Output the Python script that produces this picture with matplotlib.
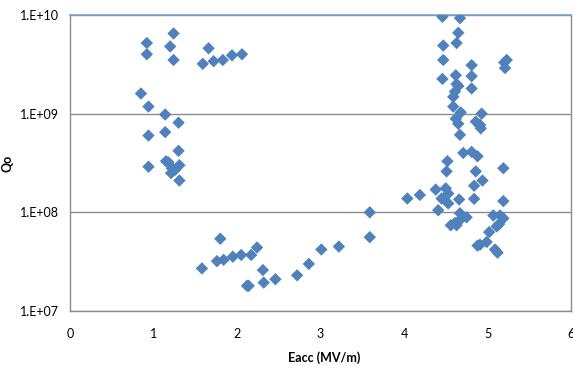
import matplotlib
matplotlib.use("Agg")
import matplotlib.pyplot as plt
from matplotlib.ticker import FixedLocator, NullLocator

# Data
eacc = [
    # low-field cluster
    0.92, 0.92, 1.24, 1.20, 1.24, 0.85, 0.94, 1.14, 1.30, 0.94, 1.14, 1.30,
    0.94, 1.15, 1.18, 1.31, 1.22, 1.21, 1.31, 1.26,
    1.66, 1.59, 1.72, 1.83, 1.94, 2.06,
    # low Q cluster
    3.59, 1.80, 3.59, 1.58, 1.76, 1.84, 1.95, 2.05, 2.17, 2.24, 2.31, 2.12,
    2.14, 2.32, 2.46, 2.72, 2.86, 3.01, 3.22,
    # high-field cluster
    4.46, 4.67, 4.65, 4.63, 4.47, 4.47, 4.81, 5.23, 5.20, 5.21, 4.46, 4.62,
    4.81, 4.63, 4.65, 4.61, 4.59, 4.81, 4.59, 4.68, 4.93, 4.62, 4.65, 4.86,
    4.91, 4.92, 4.67, 4.71, 4.81, 4.88, 4.52, 4.51, 4.86, 5.19, 4.94, 4.84,
    4.04, 4.19, 4.38, 4.50, 4.45, 4.53, 4.53, 4.66, 4.84, 5.19, 4.41,
    4.67, 4.75, 4.69, 4.61, 4.56, 4.63, 5.07, 5.15, 5.19, 5.14, 5.11, 5.02,
    4.99, 4.91, 4.88, 5.09, 5.12,
]
qo = [
    5.2e9, 4.0e9, 6.5e9, 4.8e9, 3.5e9, 1.6e9, 1.18e9, 9.8e8, 8.1e8, 6.0e8, 6.5e8, 4.2e8,
    2.9e8, 3.3e8, 3.2e8, 3.0e8, 2.8e8, 2.5e8, 2.1e8, 2.7e8,
    4.6e9, 3.2e9, 3.4e9, 3.5e9, 3.9e9, 4.0e9,
    1.0e8, 5.4e7, 5.6e7, 2.7e7, 3.2e7, 3.3e7, 3.55e7, 3.7e7, 3.7e7, 4.4e7, 2.6e7, 1.8e7,
    1.8e7, 1.94e7, 2.1e7, 2.3e7, 3.0e7, 4.2e7, 4.5e7,
    9.6e9, 9.3e9, 6.6e9, 5.2e9, 4.9e9, 3.5e9, 3.1e9, 3.5e9, 3.3e9, 2.9e9, 2.25e9, 2.45e9,
    2.4e9, 2.0e9, 1.9e9, 1.67e9, 1.48e9, 1.8e9, 1.18e9, 1.03e9, 1.0e9, 8.9e8, 7.9e8, 8.3e8,
    7.7e8, 7.1e8, 6.1e8, 4.0e8, 4.1e8, 3.7e8, 3.3e8, 2.6e8, 2.6e8, 2.8e8, 2.1e8, 1.86e8,
    1.38e8, 1.5e8, 1.7e8, 1.75e8, 1.38e8, 1.55e8, 1.23e8, 1.35e8, 1.37e8, 1.3e8, 1.05e8,
    9.8e7, 8.9e7, 8.7e7, 7.8e7, 7.4e7, 7.4e7, 9.3e7, 9.3e7, 8.7e7, 7.6e7, 7.2e7, 6.3e7,
    5.0e7, 4.7e7, 4.6e7, 4.2e7, 3.9e7,
]
x_ticks = [0, 1, 2, 3, 4, 5, 6]
y_ticks = [1e7, 1e8, 1e9, 1e10]
y_tick_labels = ["1.E+07", "1.E+08", "1.E+09", "1.E+10"]
x_label = "Eacc (MV/m)"
y_label = "Qo"

plt.rcParams['font.family'] = ['Lato', 'DejaVu Sans']

fig = plt.figure(figsize=(5.73, 3.69), dpi=100)
ax = fig.add_axes([70 / 573, 58 / 369, 501 / 573, 296 / 369])

ax.scatter(eacc, qo, marker='D', s=40, color='#4F81BD', edgecolors='none', zorder=3)

ax.set_yscale('log')
ax.set_xlim(0, 6)
ax.set_ylim(1e7, 1e10)
ax.yaxis.set_major_locator(FixedLocator(y_ticks))
ax.yaxis.set_minor_locator(NullLocator())
ax.set_yticklabels(y_tick_labels)
ax.set_xticks(x_ticks)
ax.set_xticklabels([str(t) for t in x_ticks])

ax.grid(axis='y', color='#8C8C8C', linewidth=1.0, zorder=1)
for side in ['left', 'bottom', 'right']:
    ax.spines[side].set_color('#8C8C8C')
    ax.spines[side].set_linewidth(1.0)
ax.spines['top'].set_color('#7BA0CF')
ax.spines['top'].set_linewidth(1.2)

ax.tick_params(axis='both', length=0, labelsize=9, colors='#000000')
ax.tick_params(axis='x', pad=12)
ax.tick_params(axis='y', pad=8)

ax.set_xlabel(x_label, fontsize=9, fontweight='bold')
ax.set_ylabel(y_label, fontsize=9, fontweight='bold')
ax.yaxis.set_label_coords(-0.113, 0.5)
ax.xaxis.set_label_coords(0.508, -0.135)

fig.savefig('out.png', dpi=100)
